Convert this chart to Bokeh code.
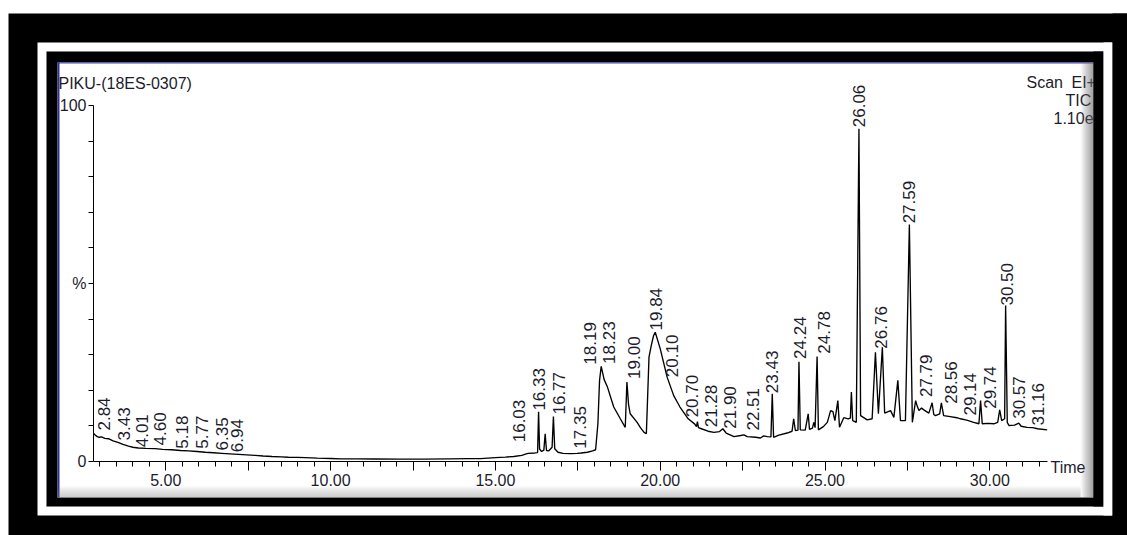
import numpy as np
from bokeh.plotting import figure
from bokeh.models import (Range1d, FixedTicker, CustomJSTickFormatter, BoxAnnotation,
                          Label, ColumnDataSource)
from bokeh.core.properties import value
from bokeh.embed import file_html
from bokeh.resources import INLINE

# ---------------- data ----------------
time_min = [2.81, 2.86, 2.92, 2.98, 3.05, 3.15, 3.26, 3.40, 3.57, 3.70, 3.87, 4.00, 4.17, 4.40,
            4.68, 4.90, 5.18, 5.45, 5.69, 5.95, 6.20, 6.45, 6.70, 6.95, 7.21, 7.45, 7.71, 7.95,
            8.22, 8.50, 8.72, 9.00, 9.23, 9.60, 10.00, 10.30, 10.80, 11.30, 12.10, 12.80, 13.60,
            14.20, 14.55, 15.00, 15.30, 15.56, 15.80, 15.96, 16.00, 16.20, 16.28, 16.31, 16.34,
            16.40, 16.47, 16.51, 16.55, 16.62, 16.72, 16.76, 16.80, 16.90, 17.05, 17.28, 17.48,
            17.60, 17.79, 17.95, 18.04, 18.11, 18.16, 18.21, 18.30, 18.40, 18.59, 18.79, 18.90,
            18.94, 18.99, 19.04, 19.09, 19.30, 19.40, 19.51, 19.58, 19.66, 19.73, 19.80, 19.85,
            20.00, 20.21, 20.41, 20.60, 20.85, 21.05, 21.10, 21.13, 21.16, 21.25, 21.45, 21.63,
            21.80, 21.90, 22.00, 22.24, 22.44, 22.54, 22.64, 22.90, 23.04, 23.14, 23.25, 23.36,
            23.40, 23.44, 23.60, 23.85, 24.00, 24.05, 24.10, 24.18, 24.21, 24.25, 24.40, 24.49,
            24.53, 24.62, 24.66, 24.70, 24.76, 24.80, 24.95, 25.07, 25.17, 25.24, 25.30, 25.39,
            25.44, 25.57, 25.70, 25.77, 25.80, 25.84, 25.95, 26.03, 26.08, 26.28, 26.43, 26.53,
            26.62, 26.74, 26.81, 26.99, 27.09, 27.21, 27.29, 27.44, 27.56, 27.65, 27.75, 27.80,
            27.85, 27.93, 28.00, 28.08, 28.15, 28.25, 28.30, 28.35, 28.48, 28.53, 28.60, 28.80,
            29.00, 29.11, 29.30, 29.51, 29.67, 29.72, 29.77, 29.95, 30.12, 30.24, 30.30, 30.36,
            30.45, 30.48, 30.53, 30.58, 30.75, 30.88, 30.95, 31.13, 31.30, 31.45, 31.74]
intensity_pct = [7.9, 7.4, 7.0, 6.8, 6.9, 6.5, 6.4, 5.8, 5.3, 4.8, 4.3, 4.0, 3.8, 3.7,
                 3.6, 3.4, 3.3, 3.1, 3.0, 2.8, 2.6, 2.45, 2.3, 2.15, 2.0, 1.85, 1.7, 1.55,
                 1.4, 1.3, 1.2, 1.15, 1.1, 0.95, 0.85, 0.75, 0.72, 0.70, 0.65, 0.68, 0.75,
                 0.80, 0.80, 1.10, 1.25, 1.40, 1.70, 2.20, 2.30, 2.40, 2.50, 14.0, 3.5,
                 2.8, 3.2, 7.8, 3.1, 3.0, 4.0, 12.6, 3.6, 2.6, 2.3, 2.2, 2.3,
                 2.4, 2.6, 3.0, 3.3, 10.6, 22.8, 26.7, 23.0, 20.9, 15.3, 12.0, 10.2,
                 9.6, 22.3, 16.0, 13.4, 11.0, 9.5, 8.2, 7.8, 29.3, 32.6, 35.4, 36.3,
                 31.7, 23.7, 18.5, 15.3, 12.0, 10.5, 9.8, 11.2, 9.5, 9.2, 8.5, 8.2,
                 8.4, 9.2, 8.0, 7.0, 7.3, 7.5, 7.0, 6.8, 6.6, 7.2, 7.0, 6.9,
                 19.0, 6.8, 7.4, 8.0, 8.5, 12.0, 8.7, 8.8, 28.0, 8.9, 8.8, 13.4,
                 9.0, 9.4, 11.0, 9.5, 29.5, 8.9, 9.8, 11.0, 14.3, 14.0, 11.5, 17.1,
                 9.6, 12.3, 12.0, 12.2, 19.5, 11.5, 11.0, 93.5, 12.9, 11.7, 12.0, 30.7,
                 13.4, 32.1, 13.6, 14.3, 12.4, 22.8, 11.5, 11.5, 66.6, 11.0, 17.1, 15.5,
                 14.3, 15.0, 14.5, 14.0, 13.6, 16.5, 13.2, 12.9, 13.4, 16.5, 12.9, 12.6,
                 12.3, 12.0, 11.6, 11.0, 10.6, 17.1, 10.6, 10.7, 10.6, 11.0, 14.5, 11.5,
                 12.0, 43.8, 11.0, 10.1, 10.2, 10.8, 9.9, 9.6, 9.5, 9.2, 8.9]

peak_labels = ["2.84", "3.43", "4.01", "4.60", "5.18", "5.77", "6.35", "6.94", "16.03",
               "16.33", "16.77", "17.35", "18.19", "18.23", "19.00", "19.84", "20.10", "20.70",
               "21.28", "21.90", "22.51", "23.43", "24.24", "24.78", "26.06", "26.76", "27.59",
               "27.79", "28.56", "29.14", "29.74", "30.50", "30.57", "31.16"]
peak_label_time = [3.11, 3.72, 4.27, 4.83, 5.49, 6.09, 6.70, 7.15, 15.73,
                   16.32, 16.92, 17.58, 17.86, 18.44, 19.20, 19.86, 20.36, 20.97,
                   21.53, 22.13, 22.82, 23.40, 24.24, 24.96, 26.03, 26.71, 27.56,
                   28.07, 28.81, 29.41, 30.02, 30.51, 30.88, 31.46]
peak_label_pct = [8.7, 5.9, 4.0, 4.5, 3.6, 3.6, 3.1, 2.6, 5.4,
                  14.3, 13.2, 3.6, 27.2, 27.4, 23.2, 36.8, 23.7, 12.4,
                  9.6, 9.2, 8.7, 19.2, 28.8, 30.3, 93.9, 31.7, 66.9,
                  18.1, 16.2, 12.9, 14.8, 43.8, 12.0, 10.1]

x_axis_start, x_axis_end = 2.806, 31.75
x_major_ticks = [5.0, 7.5, 10.0, 12.5, 15.0, 17.5, 20.0, 22.5, 25.0, 27.5, 30.0]
x_minor_ticks = [3.0, 3.5, 4.0, 4.5, 5.5, 6.0, 6.5, 7.0, 8.0, 8.5, 9.0, 9.5, 10.5, 11.0,
                 11.5, 12.0, 13.0, 13.5, 14.0, 14.5, 15.5, 16.0, 16.5, 17.0, 18.0, 18.5,
                 19.0, 19.5, 20.5, 21.0, 21.5, 22.0, 23.0, 23.5, 24.0, 24.5, 25.5, 26.0,
                 26.5, 27.0, 28.0, 28.5, 29.0, 29.5, 30.5, 31.0, 31.5]
y_major_ticks = [0, 50, 100]
y_minor_ticks = [10, 20, 30, 40, 60, 70, 80, 90]

title_text = "PIKU-(18ES-0307)"
info_texts = ["Scan", "EI+", "TIC", "1.10e7"]

# ---------------- figure ----------------
FONT = "Liberation Sans"
TXT = "#1c1c2c"
W, H = 1127, 535
PX_PER_MIN = 32.96      # screen scale of the time axis
PX_PER_PCT = 3.56       # screen scale of the % axis
X0_PX, Y0_PX = 165.3 - 5.0 * PX_PER_MIN, 461.0   # where t=0 / 0 % fall on the canvas
x_lo = -X0_PX / PX_PER_MIN
y_lo = -(H - Y0_PX) / PX_PER_PCT

p = figure(width=W, height=H, output_backend="svg", toolbar_location=None, title=None,
           x_range=Range1d(x_lo, x_lo + W / PX_PER_MIN),
           y_range=Range1d(y_lo, y_lo + H / PX_PER_PCT),
           min_border=0, min_border_left=0, min_border_right=0,
           min_border_top=0, min_border_bottom=0)
p.outline_line_color = None
p.background_fill_color = "white"
p.border_fill_color = "white"
p.grid.visible = False


def box(l, r, t, b, color, level="underlay", alpha=1.0, line_color=None):
    p.add_layout(BoxAnnotation(left=l, right=r, top=t, bottom=b,
                               left_units="canvas", right_units="canvas",
                               top_units="canvas", bottom_units="canvas",
                               fill_color=color, fill_alpha=alpha,
                               line_color=line_color, level=level))


# window frames
box(8, 1127, 13, 535, "black")
box(37, 1112, 42, 515, "white")
box(46, 1103, 51, 506, "black", line_color="#777777")
box(57, 1093, 62, 497, "white")
box(57, 1093, 62, 63, "#4040c8")
box(57, 59, 62, 497, "#303090")

# trace
src = ColumnDataSource(dict(t=time_min, i=intensity_pct))
p.line("t", "i", source=src, line_color="black", line_width=1.35)

# peak labels
lab = ColumnDataSource(dict(t=peak_label_time, i=peak_label_pct, txt=peak_labels))
p.text("t", "i", text="txt", source=lab, angle=np.pi / 2, text_align="left",
       text_baseline="middle", text_font=value(FONT), text_font_size="17px",
       text_color=TXT)

# axes, fixed inside the frame
xa = p.xaxis[0]
xa.fixed_location = 0
xa.bounds = (x_axis_start, x_axis_end)
xa.ticker = FixedTicker(ticks=x_major_ticks, minor_ticks=x_minor_ticks)
xa.formatter = CustomJSTickFormatter(code="return (Math.abs(tick % 5) < 1e-6) ? tick.toFixed(2) : '';")
xa.major_tick_out = 9
xa.major_tick_in = 0
xa.minor_tick_out = 5
xa.minor_tick_in = 0
xa.major_label_standoff = 3
xa.major_label_text_font = FONT
xa.major_label_text_font_size = "16px"
xa.major_label_text_color = TXT
xa.axis_line_color = "black"

ya = p.yaxis[0]
ya.fixed_location = x_axis_start
ya.bounds = (0, 100)
ya.ticker = FixedTicker(ticks=y_major_ticks, minor_ticks=y_minor_ticks)
ya.formatter = CustomJSTickFormatter(code="return tick == 50 ? '%' : tick.toFixed(0);")
ya.major_tick_out = 5
ya.major_tick_in = 0
ya.minor_tick_out = 5
ya.minor_tick_in = 0
ya.major_label_standoff = 2
ya.major_label_text_font = FONT
ya.major_label_text_font_size = "16px"
ya.major_label_text_color = TXT
ya.major_label_orientation = "horizontal"


def label(x, y, text, align="left"):
    p.add_layout(Label(x=x, y=y, x_units="canvas", y_units="canvas", text=text,
                       text_font=FONT, text_font_size="16px", text_color=TXT,
                       text_align=align, text_baseline="alphabetic"))


label(58, 83, title_text)
label(1026, 82, info_texts[0])
label(1071, 82, info_texts[1])
label(1065, 100, info_texts[2])
label(1053, 117, info_texts[3])
label(1050, 467, "Time")

# panel shadow (right and bottom) and right window frame drawn over clipped texts
for k in range(13):
    box(1080 + k, 1081 + k, 62, 497, "#6a6a6a", level="overlay", alpha=0.03 + 0.06 * k)
for k in range(12):
    box(57, 1080, 485 + k, 486 + k, "#808080", level="overlay", alpha=0.02 + 0.04 * k)
box(1093, 1103, 51, 506, "black", level="overlay")
box(1103, 1112, 42, 515, "white", level="overlay")
box(1112, 1127, 13, 535, "black", level="overlay")

open("out.html", "w").write(file_html(p, INLINE))
